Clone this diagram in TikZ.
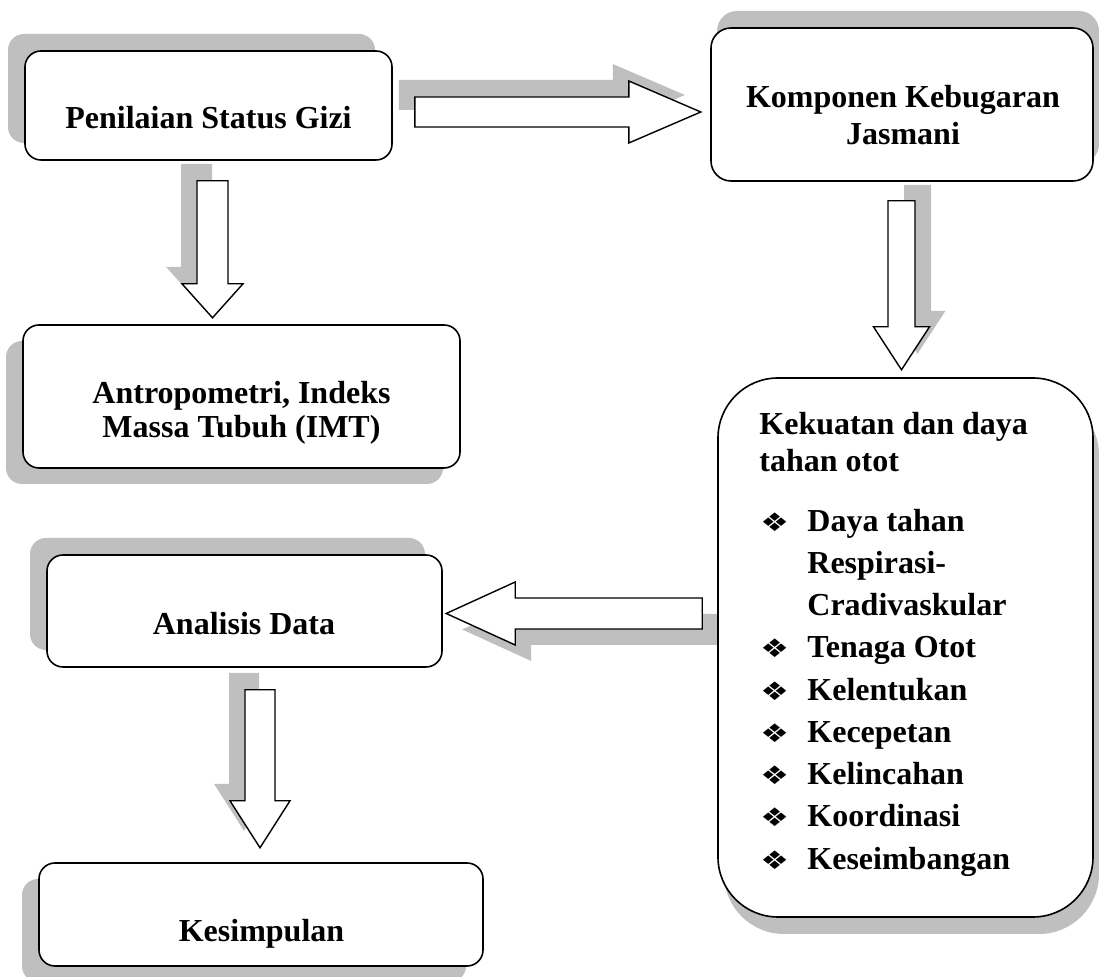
\documentclass[tikz,border=0pt]{standalone}
\usepackage{fontspec}
\setmainfont{Liberation Serif}
\newfontfamily\symfont{DejaVu Sans}
\usetikzlibrary{calc, positioning, shadows, backgrounds}
\definecolor{shadowgray}{gray}{0.75}
\tikzstyle{box}=[draw, fill=white, rectangle, line width=0.8pt, inner sep=0pt, rounded corners=8pt]
\tikzstyle{boxtext}=[font=\fontsize{16pt}{19pt}\selectfont\bfseries, inner sep=0pt, anchor=base]
\tikzstyle{listtext}=[boxtext, anchor=base west]
\tikzstyle{bullet}=[font=\symfont\fontsize{16pt}{18pt}\selectfont, inner sep=0pt, anchor=base west]
\tikzstyle{blockarrow}=[draw, fill=white, line width=0.7pt, line join=miter]
\tikzstyle{arrowshadow}=[fill=shadowgray]
\tikzstyle{shadow nw}=[drop shadow={shadow xshift=-8.5pt, shadow yshift=8.5pt, fill=shadowgray, opacity=1}]
\tikzstyle{shadow ne}=[drop shadow={shadow xshift=3pt, shadow yshift=8.5pt, fill=shadowgray, opacity=1}]
\tikzstyle{shadow sw}=[drop shadow={shadow xshift=-8.5pt, shadow yshift=-8pt, fill=shadowgray, opacity=1}]
\tikzstyle{shadow se}=[drop shadow={shadow xshift=3pt, shadow yshift=-8.5pt, fill=shadowgray, opacity=1}]
% block arrow: #1 tail, #2 angle, #3 shaft length, #4 head length,
% #5 half shaft width, #6 half head width, #7 shadow offset
\newcommand{\blockarrow}[7]{%
  \fill[arrowshadow, shift={(#1)}, shift={(#7)}, rotate=#2]
    (0,-#5) -- (#3,-#5) -- (#3,-#6) -- (#3+#4,0) -- (#3,#6) -- (#3,#5) -- (0,#5) -- cycle;
  \draw[blockarrow, shift={(#1)}, rotate=#2]
    (0,-#5) -- (#3,-#5) -- (#3,-#6) -- (#3+#4,0) -- (#3,#6) -- (#3,#5) -- (0,#5) -- cycle;}

\begin{document}
\begin{tikzpicture}[x=0.5pt, y=-0.5pt]
			\useasboundingbox (0,0) rectangle (1099,977);
			\clip (0,0) rectangle (1099,977);

			% Draw the boxes
			\node[box, shadow nw, minimum width=183.5pt, minimum height=54.5pt] (pgz) at (208.5,105.5) {};
			\node[box, shadow ne, minimum width=191pt, minimum height=76.5pt, rounded corners=10pt] (kkj) at (902,104.5) {};
			\node[box, shadow sw, minimum width=218.5pt, minimum height=71.5pt] (imt) at (241.5,396.5) {};
			\node[box, shadow se, minimum width=187.5pt, minimum height=269.5pt, rounded corners=30pt] (otot) at (905.5,647.5) {};
			\node[box, shadow nw, minimum width=197.5pt, minimum height=56pt] (ana) at (244.5,611) {};
			\node[box, shadow sw, minimum width=222pt, minimum height=51.5pt] (kes) at (261,914.5) {};

			% Texts of the boxes
			\node[boxtext] (pgz-1) at (208.5,129) {Penilaian Status Gizi};
			\node[boxtext] (kkj-1) at (903,108) {Komponen Kebugaran};
			\node[boxtext] (kkj-2) at (903,145) {Jasmani};
			\node[boxtext] (imt-1) at (241.5,404) {Antropometri, Indeks};
			\node[boxtext] (imt-2) at (241.5,438) {Massa Tubuh (IMT)};
			\node[boxtext] (ana-1) at (244,635) {Analisis Data};
			\node[boxtext] (kes-1) at (261.5,942) {Kesimpulan};
			\node[listtext] (otot-1) at (759,435) {Kekuatan dan daya};
			\node[listtext] (otot-2) at (759,472) {tahan otot};

			% The list of components
			\foreach \name / \y / \txt in {1/532/Daya tahan, 2/574/Respirasi-, 3/616/Cradivaskular,
				4/658/Tenaga Otot, 5/701/Kelentukan, 6/743/Kecepetan, 7/785/Kelincahan,
				8/827/Koordinasi, 9/870/Keseimbangan}
			\node[listtext] (item-\name) at (807,\y) {\txt};
			\foreach \name in {1,4,5,6,7,8,9}
			\node[bullet] (bul-\name) at ($(item-\name.base west)+(-47,0)$) {\scalebox{1}[0.8]{❖}};

			% Connect the boxes with block arrows
			\begin{scope}[on background layer]
			\coordinate (a-1) at ($(pgz.south)+(4,20)$);
			\coordinate (a-2) at ($(pgz.east)+(22,6.5)$);
			\coordinate (a-3) at ($(kkj.south)+(-0.5,19)$);
			\coordinate (a-4) at ($(otot.west)+(-15,-34)$);
			\coordinate (a-5) at ($(ana.south)+(15.5,22)$);
			\blockarrow{a-1}{-90}{103}{34}{15.5}{30.5}{-16,-17}
			\blockarrow{a-2}{0}{214}{72}{15}{31}{-16,-17}
			\blockarrow{a-3}{-90}{126}{43}{13.5}{28}{16,-16}
			\blockarrow{a-4}{180}{187}{69}{15.5}{31.5}{16,16}
			\blockarrow{a-5}{-90}{111}{47}{15}{30}{-16,-17}
			\end{scope}
		\end{tikzpicture}
\end{document}
